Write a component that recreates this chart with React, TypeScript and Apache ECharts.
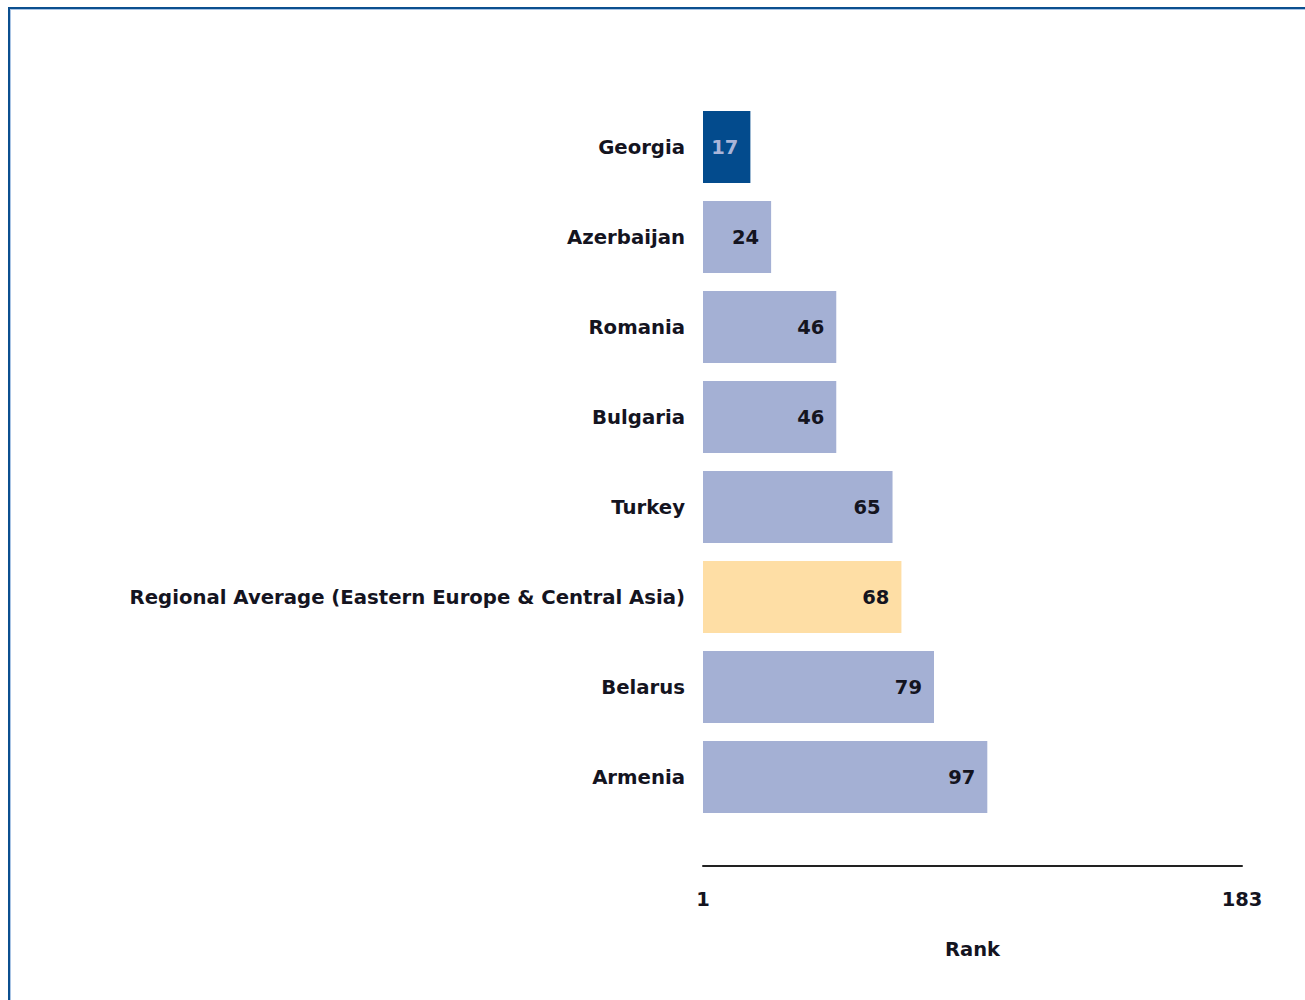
import React, { useEffect, useRef } from "react";
import * as echarts from "echarts";

const categories = [
  "Georgia",
  "Azerbaijan",
  "Romania",
  "Bulgaria",
  "Turkey",
  "Regional Average (Eastern Europe & Central Asia)",
  "Belarus",
  "Armenia",
];
const ranks = [17, 24, 46, 46, 65, 68, 79, 97];
const axisTickLabels = [1, 183];
const axisMin = 1;
const axisMax = 183;
const axisTitle = "Rank";

const HIGHLIGHT = "Georgia";
const REGIONAL = "Regional Average (Eastern Europe & Central Asia)";

const FONT = "DejaVu Sans";
const TEXT = "#14141f";

export default function App() {
  const ref = useRef<HTMLDivElement>(null);
  useEffect(() => {
    if (!ref.current) return;
    const chart = echarts.init(ref.current, null, { renderer: "svg" });
    const data = categories.map((c, i) => {
      const isHi = c === HIGHLIGHT;
      const isReg = c === REGIONAL;
      return {
        value: ranks[i],
        itemStyle: { color: isHi ? "#034b8d" : isReg ? "#fedea5" : "#a4b0d4" },
        label: { color: isHi ? "#a9b5d9" : TEXT },
      };
    });
    chart.setOption({
      animation: false,
      backgroundColor: "#ffffff",
      textStyle: { fontFamily: FONT },
      graphic: [
        { type: "rect", shape: { x: 8, y: 7, width: 1297, height: 2 }, style: { fill: "#0b4f8f" } },
        { type: "rect", shape: { x: 10, y: 9, width: 1295, height: 1 }, style: { fill: "#a9c4e4" } },
        { type: "rect", shape: { x: 8, y: 7, width: 2, height: 993 }, style: { fill: "#0b4f8f" } },
        { type: "rect", shape: { x: 10, y: 9, width: 1, height: 991 }, style: { fill: "#a9c4e4" } },
      ],
      grid: { left: 703, right: 63, top: 102, bottom: 178, containLabel: false },
      xAxis: {
        type: "value",
        min: axisMin,
        max: axisMax,
        offset: 44,
        name: axisTitle,
        nameLocation: "middle",
        nameGap: 73,
        nameTextStyle: { fontFamily: FONT, fontWeight: "bold", fontSize: 19.5, color: TEXT },
        axisLine: { show: true, lineStyle: { color: "#222", width: 2 } },
        axisTick: { show: false },
        splitLine: { show: false },
        axisLabel: {
          customValues: axisTickLabels,
          showMinLabel: true,
          showMaxLabel: true,
          margin: 23,
          fontFamily: FONT,
          fontWeight: "bold",
          fontSize: 19.5,
          color: TEXT,
        },
      },
      yAxis: {
        type: "category",
        data: categories,
        inverse: true,
        axisLine: { show: false },
        axisTick: { show: false },
        splitLine: { show: false },
        axisLabel: {
          margin: 18,
          fontFamily: FONT,
          fontWeight: "bold",
          fontSize: 19.7,
          color: TEXT,
          padding: [3, 0, 0, 0],
        },
      },
      series: [
        {
          type: "bar",
          data,
          barCategoryGap: "20%",
          label: {
            show: true,
            position: "insideRight",
            distance: 12,
            fontFamily: FONT,
            fontWeight: "bold",
            fontSize: 19.5,
          },
        },
      ],
    });
    return () => chart.dispose();
  }, []);
  return (
    <div
      ref={ref}
      style={{ position: "absolute", left: 0, top: 0, width: 1305, height: 1000 }}
    />
  );
}
